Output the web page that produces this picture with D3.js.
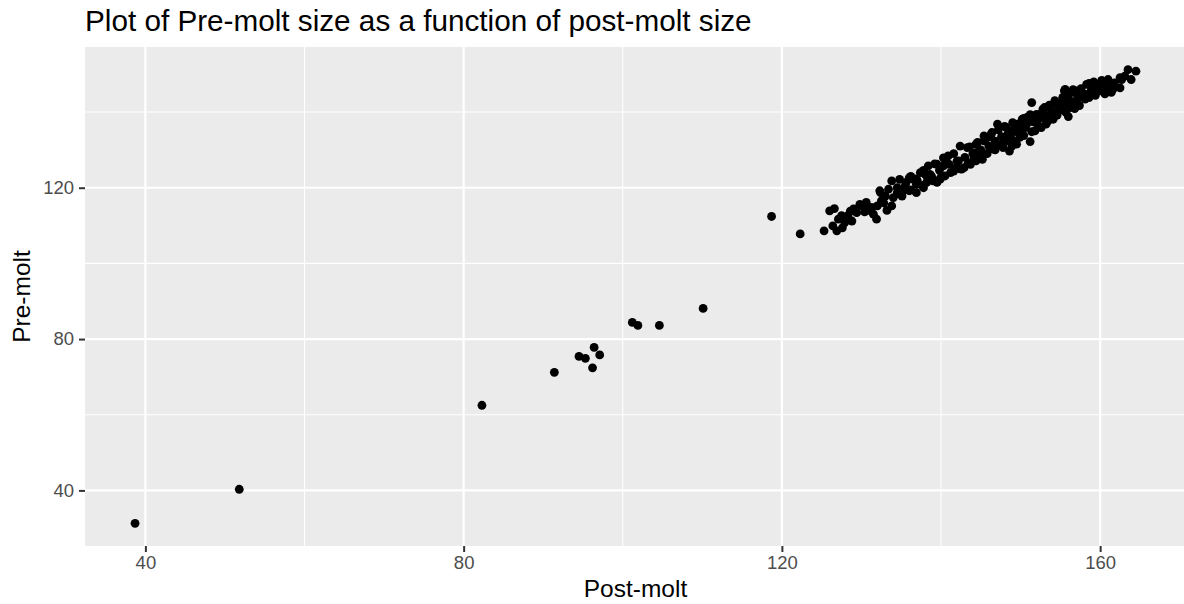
<!DOCTYPE html>
<html>
<head>
<meta charset="utf-8">
<script src="https://cdn.jsdelivr.net/npm/d3@7"></script>
<style>
  body { margin: 0; background: #fff; }
  svg { display: block; font-family: "Liberation Sans", Arial, sans-serif; }
</style>
</head>
<body>
<svg id="chart" width="1184" height="604"></svg>
<script>
var title = "Plot of Pre-molt size as a function of post-molt size";
var xLabel = "Post-molt";
var yLabel = "Pre-molt";
var xTicks = [40, 80, 120, 160];
var yTicks = [40, 80, 120];
var xMinor = [60, 100, 140];
var yMinor = [60, 100, 140];

// post-molt size
var postMolt = [38.7, 51.8, 82.3, 91.4, 94.5, 95.3, 96.4, 97.1, 96.2, 101.2, 101.9, 104.6, 110.1, 118.7, 122.3,
  125.3, 126.0, 126.6, 126.4, 127.1, 126.9, 127.5, 127.9, 128.3, 128.8, 129.4, 130.0, 130.6, 131.3, 131.9, 131.5,
  132.5, 133.0, 132.4, 133.4, 133.8, 133.8, 134.0, 134.5,
  129.8, 132.3, 134.8, 136.0, 136.9, 138.2, 139.0, 134.8, 136.0, 136.9,
  135.6, 135.2, 138.4, 138.2, 139.5, 140.3, 140.9, 140.5, 141.6, 142.2, 142.4, 143.3, 142.9, 143.7, 144.4, 145.2,
  145.4, 146.3, 147.1, 146.6, 147.7, 148.5, 149.4, 148.9, 150.0, 137.4, 137.8, 136.8,
  134.5, 135.1, 136.4, 138.0, 138.8, 139.5, 139.9, 140.3, 141.9, 142.6, 144.1, 144.8, 145.4, 144.4,
  145.9, 148.2, 147.0, 147.8, 148.6, 148.4, 149.5, 149.9, 151.2, 148.9, 149.6, 150.2, 150.8, 150.6, 151.6, 151.4,
  152.0, 152.6, 153.0, 153.9, 154.3, 154.9, 155.5, 155.3, 152.6, 151.8, 153.4, 144.4, 145.1,
  155.9, 155.7, 156.8, 157.4, 158.3, 158.9, 158.1, 159.5, 160.4, 161.2, 161.8, 162.7, 163.1, 163.5, 164.5, 163.9,
  162.5, 159.9, 160.8, 161.6,
  155.6, 162.5, 161.6, 160.8, 159.9, 153.7, 154.5, 155.8, 157.0, 157.8, 159.1, 152.4, 151.6, 149.9, 148.6, 147.8, 154.1,
  153.2, 156.0, 156.8, 157.4,
  135.5, 137.0, 138.6, 139.8, 141.0, 142.0, 143.0, 144.0, 145.0, 146.0, 146.8, 147.6, 148.4, 149.2, 150.0, 150.8,
  151.6, 152.4, 153.2, 154.0, 154.8, 155.6, 156.4, 157.2, 158.0, 158.8, 130.8, 132.8, 128.6,
  136.2, 137.8, 139.2, 140.6, 141.6, 143.6, 144.6, 145.6, 146.4, 147.2, 148.0, 149.0, 150.4, 151.2, 152.8, 153.6,
  154.4, 156.0, 156.6, 157.6, 158.6, 159.2, 160.2, 161.0,
  136.2, 137.6, 139.0, 140.0, 141.2, 142.4, 143.4, 144.8, 145.8, 146.8, 147.4, 149.0, 150.4, 151.4, 152.2, 153.6,
  154.6, 155.2, 156.2, 157.0, 158.6, 159.4, 160.6, 161.4,
  127.6, 129.0, 130.4, 132.0, 133.2];

// pre-molt size, same order
var preMolt = [31.3, 40.3, 62.5, 71.2, 75.4, 74.9, 77.8, 75.8, 72.4, 84.4, 83.6, 83.6, 88.1, 112.4, 107.8,
  108.6, 113.9, 114.5, 109.9, 111.7, 108.6, 112.6, 110.8, 112.6, 111.2, 113.4, 115.2, 116.1, 114.8, 111.7, 113.0,
  116.5, 117.8, 118.7, 119.6, 121.8, 115.2, 117.4, 120.0,
  115.6, 119.2, 122.2, 122.6, 120.9, 123.1, 121.8, 118.3, 119.2, 118.7,
  121.4, 119.2, 125.8, 121.4, 126.2, 127.9, 128.4, 123.1, 124.4, 127.1, 131.0, 130.6, 125.3, 126.2, 129.3, 127.5,
  132.4, 134.1, 136.8, 130.2, 131.5, 134.1, 135.9, 131.0, 134.1, 124.0, 120.0, 122.3,
  118.7, 117.8, 122.3, 123.6, 123.1, 121.4, 122.3, 125.8, 125.3, 124.9, 127.5, 129.7, 133.7, 131.5,
  133.3, 135.9, 131.5, 130.6, 129.7, 132.4, 131.5, 133.3, 132.2, 135.0, 136.8, 138.1, 138.6, 135.9, 137.6, 142.5,
  139.4, 138.6, 141.2, 139.9, 143.0, 142.1, 145.6, 143.9, 135.9, 135.0, 137.6, 127.1, 128.0,
  142.5, 139.9, 145.1, 144.2, 147.3, 146.4, 143.4, 146.9, 147.3, 146.4, 147.7, 148.6, 149.5, 151.2, 150.8, 148.6,
  146.4, 145.6, 146.0, 146.0,
  146.0, 149.1, 147.3, 146.9, 147.3, 141.2, 142.5, 143.9, 145.6, 144.7, 146.0, 139.4, 138.6, 136.8, 135.0, 133.3, 138.1,
  136.8, 138.8, 140.9, 141.7,
  120.5, 122.0, 123.5, 124.6, 126.2, 127.0, 128.0, 129.0, 130.0, 131.0, 132.3, 133.5, 134.2, 134.8, 135.9, 136.9,
  137.4, 138.3, 139.1, 140.0, 141.0, 141.8, 142.8, 143.6, 144.8, 145.3, 114.0, 116.0, 113.8,
  123.0, 124.6, 126.3, 127.6, 129.0, 130.8, 132.0, 133.0, 134.6, 135.3, 136.2, 137.2, 138.3, 139.3, 140.8, 141.8,
  142.2, 144.4, 145.9, 146.2, 147.6, 148.0, 148.4, 148.6,
  119.4, 120.6, 122.2, 122.8, 124.0, 125.0, 126.4, 128.0, 129.0, 130.0, 131.2, 132.6, 133.8, 134.8, 136.4, 138.0,
  139.2, 140.6, 141.2, 142.4, 143.8, 144.4, 144.8, 145.2,
  109.4, 114.4, 113.6, 115.2, 114.0];

var data = postMolt.map(function (d, i) {
    return { post: d, pre: preMolt[i] };
});

var panel = { left: 85, right: 1186, top: 47, bottom: 546 };

// ggplot style 5% expansion
var xExt = d3.extent(postMolt), yExt = d3.extent(preMolt);
var xPad = (xExt[1] - xExt[0]) * 0.05, yPad = (yExt[1] - yExt[0]) * 0.05;

var xScale = d3.scaleLinear()
    .domain([xExt[0] - xPad, xExt[1] + xPad])
    .range([panel.left, panel.right]);
var yScale = d3.scaleLinear()
    .domain([yExt[0] - yPad, yExt[1] + yPad])
    .range([panel.bottom, panel.top]);

var svg = d3.select('#chart');

svg.append('rect')
    .attr('x', panel.left)
    .attr('y', panel.top)
    .attr('width', panel.right - panel.left)
    .attr('height', panel.bottom - panel.top)
    .attr('fill', '#ebebeb');

var grid = svg.append('g');

grid.selectAll('line.xminor').data(xMinor).enter().append('line')
    .attr('x1', xScale).attr('x2', xScale)
    .attr('y1', panel.top).attr('y2', panel.bottom)
    .attr('stroke', '#fff').attr('stroke-width', 1.1);
grid.selectAll('line.yminor').data(yMinor).enter().append('line')
    .attr('y1', yScale).attr('y2', yScale)
    .attr('x1', panel.left).attr('x2', panel.right)
    .attr('stroke', '#fff').attr('stroke-width', 1.1);
grid.selectAll('line.xmajor').data(xTicks).enter().append('line')
    .attr('x1', xScale).attr('x2', xScale)
    .attr('y1', panel.top).attr('y2', panel.bottom)
    .attr('stroke', '#fff').attr('stroke-width', 2.2);
grid.selectAll('line.ymajor').data(yTicks).enter().append('line')
    .attr('y1', yScale).attr('y2', yScale)
    .attr('x1', panel.left).attr('x2', panel.right)
    .attr('stroke', '#fff').attr('stroke-width', 2.2);

svg.append('g').selectAll('circle').data(data).enter().append('circle')
    .attr('cx', function (d) { return xScale(d.post); })
    .attr('cy', function (d) { return yScale(d.pre); })
    .attr('r', 4.4)
    .attr('fill', '#000');

var xAxis = d3.axisBottom(xScale).tickValues(xTicks).tickSize(6).tickPadding(4);
var yAxis = d3.axisLeft(yScale).tickValues(yTicks).tickSize(6).tickPadding(5);

var gx = svg.append('g')
    .attr('transform', 'translate(0,' + panel.bottom + ')')
    .call(xAxis);
var gy = svg.append('g')
    .attr('transform', 'translate(' + panel.left + ',0)')
    .call(yAxis);

[gx, gy].forEach(function (g) {
    g.select('.domain').remove();
    g.selectAll('.tick line').attr('stroke', '#333').attr('stroke-width', 2);
    g.selectAll('.tick text')
        .attr('fill', '#4d4d4d')
        .style('font-size', '18.5px')
        .style('font-family', '"Liberation Sans", Arial, sans-serif');
});

svg.append('text')
    .attr('x', (panel.left + panel.right) / 2)
    .attr('y', 597)
    .attr('text-anchor', 'middle')
    .style('font-size', '24.5px')
    .text(xLabel);

svg.append('text')
    .attr('transform', 'translate(30,' + ((panel.top + panel.bottom) / 2) + ') rotate(-90)')
    .attr('text-anchor', 'middle')
    .style('font-size', '24.5px')
    .text(yLabel);

svg.append('text')
    .attr('x', panel.left)
    .attr('y', 31)
    .style('font-size', '29.7px')
    .text(title);
</script>
</body>
</html>
